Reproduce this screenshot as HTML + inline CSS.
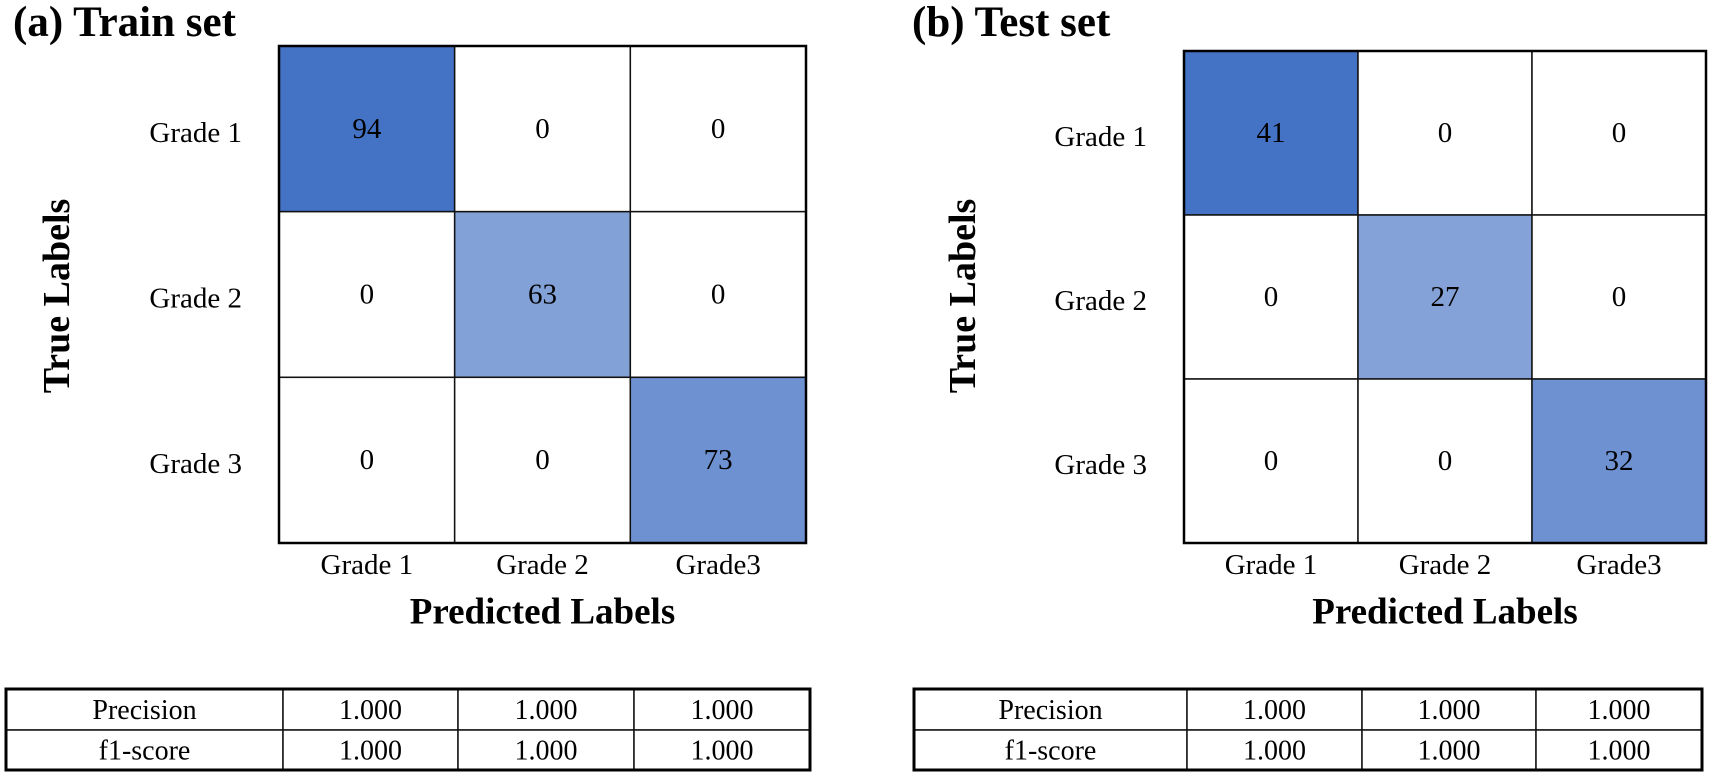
<!DOCTYPE html>
<html><head><meta charset="utf-8">
<style>
html,body{margin:0;padding:0;background:#fff;}
svg{display:block;font-family:"Liberation Serif",serif;}
</style></head>
<body>
<svg id="fig" width="1713" height="778" viewBox="0 0 1713 778" xmlns="http://www.w3.org/2000/svg"></svg>
<script>
const classLabels = ["Grade 1","Grade 2","Grade 3"];
const predLabels = ["Grade 1","Grade 2","Grade3"];
const trainMatrix = [[94,0,0],[0,63,0],[0,0,73]];
const testMatrix = [[41,0,0],[0,27,0],[0,0,32]];
const metricNames = ["Precision","f1-score"];
const trainPrecision = ["1.000","1.000","1.000"];
const trainF1 = ["1.000","1.000","1.000"];
const testPrecision = ["1.000","1.000","1.000"];
const testF1 = ["1.000","1.000","1.000"];

const NS="http://www.w3.org/2000/svg";
const svg=document.getElementById('fig');
function mk(tag,attrs,parent){const e=document.createElementNS(NS,tag);for(const k in attrs)e.setAttribute(k,attrs[k]);(parent||svg).appendChild(e);return e;}
function txt(s,x,y,size,weight,parent,anchor){const t=mk('text',{x:x,y:y,'font-size':size,'font-weight':weight||'normal','text-anchor':anchor||'middle','dominant-baseline':'central',fill:'#000'},parent);t.textContent=s;return t;}

function panel(cfg){
  const g=mk('g',{});
  
  
  const t=mk('text',{x:cfg.titleX,y:36,'font-size':43,'font-weight':'bold',fill:'#000'},g);
  t.textContent=cfg.title;
  
  
  const M=cfg.matrix;
  let mx=0;M.forEach(r=>r.forEach(v=>{if(v>mx)mx=v;}));
  const n=M.length;
  const cw=(cfg.x1-cfg.x0)/n, ch=(cfg.y1-cfg.y0)/n;
  const xs=i=>cfg.x0+i*cw, ys=i=>cfg.y0+i*ch;
  for(let r=0;r<n;r++)for(let c=0;c<n;c++){
    const v=M[r][c], f=v/mx;
    const R=Math.round(255-f*(255-68)),G=Math.round(255-f*(255-114)),B=Math.round(255-f*(255-196));
    const rc=mk('rect',{x:xs(c),y:ys(r),width:cw,height:ch,fill:`rgb(${R},${G},${B})`,stroke:'#111','stroke-width':1.5},g);
    
    
    const vt=txt(String(v),xs(c)+cw/2,ys(r)+ch/2,29,'normal',g);
    
    
  }
  const ob=mk('rect',{x:cfg.x0,y:cfg.y0,width:cfg.x1-cfg.x0,height:cfg.y1-cfg.y0,fill:'none',stroke:'#000','stroke-width':2.5},g);
  
  
  classLabels.forEach((l,i)=>{
    const e=txt(l,cfg.x0-37,ys(i)+ch/2+4,29,'normal',g,'end');
    
    
  });
  predLabels.forEach((l,i)=>{
    const e=txt(l,xs(i)+cw/2,565,29,'normal',g);
    
    
  });
  const xt=txt('Predicted Labels',(cfg.x0+cfg.x1)/2,612,37,'bold',g);
  
  
  const yt=txt('True Labels',0,0,38,'bold',g);
  yt.setAttribute('transform',`translate(${cfg.yTitleX},296) rotate(-90)`);
  
  
  const tg=mk('g',{},g);
  
  
  const tx=cfg.tcols, ty=[689,730,770];
  const rows=[cfg.prec,cfg.f1];
  for(let r=0;r<2;r++){
    for(let c=0;c<4;c++){
      mk('rect',{x:tx[c],y:ty[r],width:tx[c+1]-tx[c],height:ty[r+1]-ty[r],fill:'#fff',stroke:'#111','stroke-width':1.5},tg);
      const s=c===0?metricNames[r]:rows[r][c-1];
      const e=txt(s,(tx[c]+tx[c+1])/2,(ty[r]+ty[r+1])/2+1,28,'normal',tg);
      
      
    }
  }
  mk('rect',{x:tx[0],y:ty[0],width:tx[4]-tx[0],height:ty[2]-ty[0],fill:'none',stroke:'#000','stroke-width':3},tg);
}
panel({name:'train-panel',title:'(a) Train set',titleX:13,matrix:trainMatrix,x0:279,x1:806,y0:46,y1:543,yTitleX:57,tcols:[6,283,458,634,810],prec:trainPrecision,f1:trainF1});
panel({name:'test-panel',title:'(b) Test set',titleX:912,matrix:testMatrix,x0:1184,x1:1706,y0:51,y1:543,yTitleX:963,tcols:[914,1187,1362,1536,1702],prec:testPrecision,f1:testF1});
</script>
</body></html>
